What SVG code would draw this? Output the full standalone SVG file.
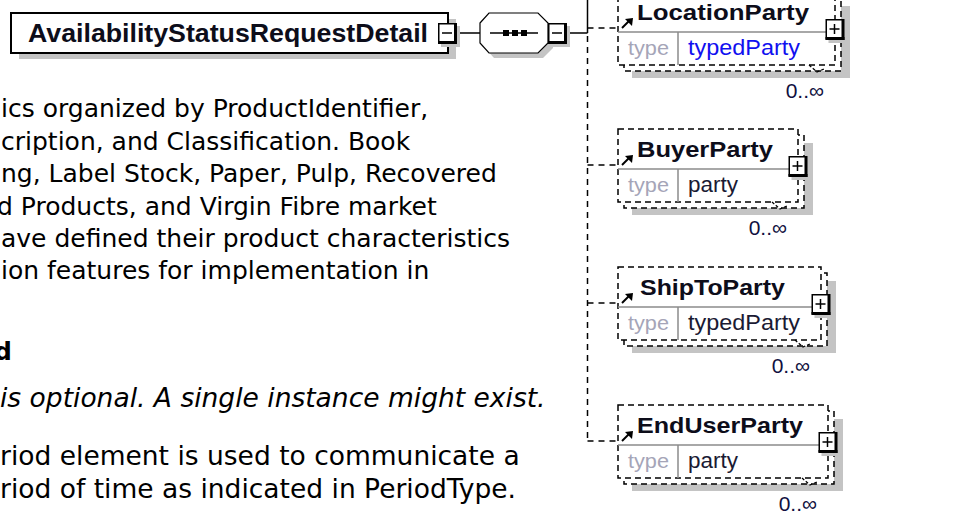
<svg xmlns="http://www.w3.org/2000/svg" xmlns:xlink="http://www.w3.org/1999/xlink" width="954" height="511" viewBox="0 0 954 511">
<style>
.body{font-family:"DejaVu Sans","Verdana",sans-serif;font-size:25px;fill:#000}
.lo{font-size:26.5px}
.nm{font-family:"Liberation Sans",Arial,sans-serif;font-weight:bold;fill:#0d0d1a}
.ty{font-family:"Liberation Sans",Arial,sans-serif;font-size:20px;fill:#a5a5b8}
.tv{font-family:"Liberation Sans",Arial,sans-serif;font-size:22px;fill:#1a1a33}
.tl{fill:#1010f0}
.mul{font-family:"Liberation Sans",Arial,sans-serif;font-size:21px;fill:#101040;text-anchor:end}
.dash{fill:#fff;stroke:#000;stroke-width:1.5;stroke-dasharray:6 4}
.sh{fill:#c4c4c4}
.sep{stroke:#8c8c8c;stroke-width:1.5;fill:none}
.cs{stroke:#000;stroke-width:1.5;fill:none}
.cd{stroke:#000;stroke-width:1.5;fill:none;stroke-dasharray:6 5}
</style>
<defs>
<g id="boxbase">
<rect x="3" y="3" width="19" height="21" class="sh"/>
<rect x="0.75" y="0.75" width="17" height="19" fill="#fff" stroke="#000" stroke-width="1.5"/>
<rect x="16" y="0" width="3" height="21" fill="#000"/>
<rect x="0" y="18" width="19" height="3" fill="#000"/>
</g>
<g id="minus"><use xlink:href="#boxbase"/><path d="M4,10H14" stroke="#000" stroke-width="1.5"/></g>
<g id="plus"><use xlink:href="#boxbase"/><path d="M4,10H14M9,5V15" stroke="#000" stroke-width="1.5"/></g>
<g id="ref"><path d="M622,0L629,-7" stroke="#000" stroke-width="2"/><polygon points="633,-10 625,-9 632,-2" fill="#000"/></g>
</defs>

<g id="text">
<text class="body" x="1" y="117">ics organized by ProductIdentifier,</text>
<text class="body" x="1" y="149.5">cription, and Classification. Book</text>
<text class="body" x="1" y="182">ng, Label Stock, Paper, Pulp, Recovered</text>
<text class="body" x="-3" y="214.5">d Products, and Virgin Fibre market</text>
<text class="body" x="1" y="247">ave defined their product characteristics</text>
<text class="body" x="1" y="279">ion features for implementation in</text>
<text class="body" x="-6" y="360" font-weight="bold">d</text>
<text class="body lo" x="0" y="407" font-style="italic">is optional. A single instance might exist.</text>
<text class="body lo" x="0" y="465">riod element is used to communicate a</text>
<text class="body lo" x="0" y="498">riod of time as indicated in PeriodType.</text>
</g>

<g id="connectors">
<path class="cs" d="M457,33H480M567,33H587.5M587.5,0V33"/>
<path class="cd" d="M587.5,36V441M587.5,28H618M587.5,165H618M587.5,303H618M587.5,441H618"/>
</g>

<g id="AvailabilityStatusRequestDetail">
<rect x="19" y="19" width="437" height="40" class="sh"/>
<rect x="11" y="13" width="437" height="40" fill="#fff" stroke="#000" stroke-width="2"/>
<text class="nm" x="28" y="42" font-size="26" textLength="400" lengthAdjust="spacingAndGlyphs">AvailabilityStatusRequestDetail</text>
<use xlink:href="#minus" x="438" y="23"/>
</g>

<g id="sequence">
<polygon class="sh" points="485,28 494,18 543,18 553,28 553,48 543,58 494,58 485,48"/>
<polygon points="480,23 489,13 538,13 548,23 548,43 538,53 489,53 480,43" fill="#fff" stroke="#000" stroke-width="1.2"/>
<path d="M490,33H538" stroke="#000" stroke-width="1.5"/>
<rect x="503" y="30" width="6" height="6" fill="#000"/>
<rect x="512" y="30" width="6" height="6" fill="#000"/>
<rect x="521" y="30" width="6" height="6" fill="#000"/>
<use xlink:href="#minus" x="548" y="23"/>
</g>

<g id="LocationParty">
<rect class="sh" x="632" y="6" width="218" height="72"/>
<rect class="dash" x="624" y="-2" width="217" height="73"/>
<rect class="dash" x="618" y="-8" width="217" height="73"/>
<path class="sep" d="M618,32H826M678,32V65"/>
<path d="M809,65L817,72L824,69" fill="none" stroke="#000" stroke-width="1.2" stroke-dasharray="3 2"/>
<use xlink:href="#ref" y="28"/>
<text class="nm" x="637" y="20" font-size="22" textLength="172" lengthAdjust="spacingAndGlyphs">LocationParty</text>
<text class="ty" x="628" y="55" textLength="41" lengthAdjust="spacingAndGlyphs">type</text>
<text class="tv tl" x="688" y="55" textLength="112" lengthAdjust="spacingAndGlyphs">typedParty</text>
<use xlink:href="#plus" x="825.5" y="19"/>
<text class="mul" x="824" y="98">0..∞</text>
</g>

<g id="BuyerParty">
<rect class="sh" x="632" y="143" width="181" height="72"/>
<rect class="dash" x="624" y="135" width="180" height="73"/>
<rect class="dash" x="618" y="129" width="180" height="73"/>
<path class="sep" d="M618,169H789M678,169V202"/>
<path d="M772,202L780,209L787,206" fill="none" stroke="#000" stroke-width="1.2" stroke-dasharray="3 2"/>
<use xlink:href="#ref" y="165"/>
<text class="nm" x="637" y="157" font-size="22" textLength="136" lengthAdjust="spacingAndGlyphs">BuyerParty</text>
<text class="ty" x="628" y="192" textLength="41" lengthAdjust="spacingAndGlyphs">type</text>
<text class="tv" x="688" y="192" textLength="50" lengthAdjust="spacingAndGlyphs">party</text>
<use xlink:href="#plus" x="788.5" y="156"/>
<text class="mul" x="787" y="235">0..∞</text>
</g>

<g id="ShipToParty">
<rect class="sh" x="632" y="281" width="204" height="72"/>
<rect class="dash" x="624" y="273" width="203" height="73"/>
<rect class="dash" x="618" y="267" width="203" height="73"/>
<path class="sep" d="M618,307H812M678,307V340"/>
<path d="M795,340L803,347L810,344" fill="none" stroke="#000" stroke-width="1.2" stroke-dasharray="3 2"/>
<use xlink:href="#ref" y="303"/>
<text class="nm" x="640" y="295" font-size="22" textLength="145" lengthAdjust="spacingAndGlyphs">ShipToParty</text>
<text class="ty" x="628" y="330" textLength="41" lengthAdjust="spacingAndGlyphs">type</text>
<text class="tv" x="688" y="330" textLength="112" lengthAdjust="spacingAndGlyphs">typedParty</text>
<use xlink:href="#plus" x="811.5" y="294"/>
<text class="mul" x="810" y="373">0..∞</text>
</g>

<g id="EndUserParty">
<rect class="sh" x="632" y="419" width="211" height="72"/>
<rect class="dash" x="624" y="411" width="210" height="73"/>
<rect class="dash" x="618" y="405" width="210" height="73"/>
<path class="sep" d="M618,445H819M678,445V478"/>
<path d="M802,478L810,485L817,482" fill="none" stroke="#000" stroke-width="1.2" stroke-dasharray="3 2"/>
<use xlink:href="#ref" y="441"/>
<text class="nm" x="637" y="433" font-size="22" textLength="166" lengthAdjust="spacingAndGlyphs">EndUserParty</text>
<text class="ty" x="628" y="468" textLength="41" lengthAdjust="spacingAndGlyphs">type</text>
<text class="tv" x="688" y="468" textLength="50" lengthAdjust="spacingAndGlyphs">party</text>
<use xlink:href="#plus" x="818.5" y="432"/>
<text class="mul" x="817" y="511">0..∞</text>
</g>
</svg>
